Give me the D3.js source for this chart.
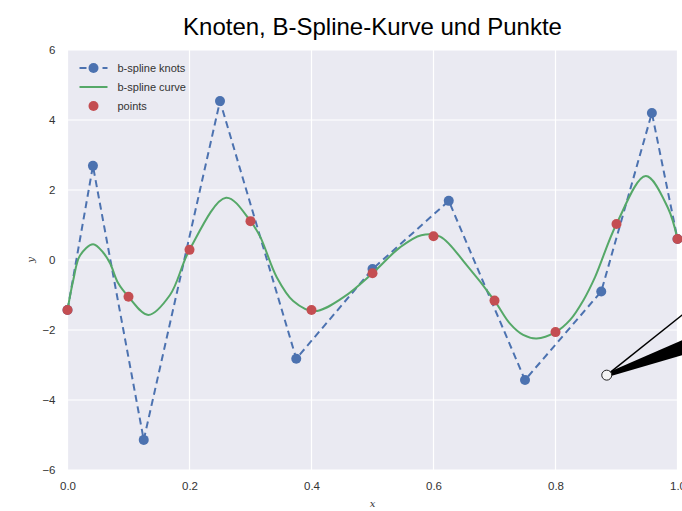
<!DOCTYPE html>
<html>
<head>
<meta charset="utf-8">
<script src="https://cdn.jsdelivr.net/npm/d3@7"></script>
<style>
  html, body { margin: 0; padding: 0; background: #fff; }
  svg { display: block; }
</style>
</head>
<body>
<div id="chart"></div>
<script>
// knots (control points) of the b-spline
const knotX = [0, 0.0417, 0.125, 0.25, 0.375, 0.5, 0.625, 0.75, 0.875, 0.958, 1.0];
const knotY = [-1.43, 2.69, -5.14, 4.54, -2.82, -0.26, 1.69, -3.43, -0.9, 4.2, 0.6];

// sampled points
const pointX = [0, 0.1, 0.2, 0.3, 0.4, 0.5, 0.6, 0.7, 0.8, 0.9, 1.0];
const pointY = [-1.43, -1.05, 0.29, 1.11, -1.43, -0.38, 0.68, -1.16, -2.06, 1.03, 0.6];

// curve
const curveX = [0, 0.0095, 0.0205, 0.042, 0.059, 0.07, 0.083, 0.1, 0.1325, 0.168, 0.2, 0.26, 0.3, 0.316, 0.343, 0.37, 0.405, 0.452, 0.5, 0.545, 0.58, 0.611, 0.654, 0.7, 0.725, 0.747, 0.769, 0.8, 0.824, 0.846, 0.865, 0.9, 0.948, 0.984, 1.0];
const curveY = [-1.43, -0.57, 0.13, 0.45, 0.2, -0.1, -0.66, -1.05, -1.57, -1.0, 0.29, 1.78, 1.11, 0.66, -0.49, -1.17, -1.46, -1.07, -0.38, 0.36, 0.71, 0.67, -0.14, -1.16, -1.81, -2.14, -2.24, -2.06, -1.71, -1.14, -0.48, 1.03, 2.4, 1.5, 0.6];

const xTicks = [0, 0.2, 0.4, 0.6, 0.8, 1.0];
const yTicks = [-6, -4, -2, 0, 2, 4, 6];

// stray annotation marker (circle + line + wedge), data coords
const annoCircle = [0.884, -3.29];
const annoLineEnd = [1.125, 0.06];
const annoWedge = [[0.884, -3.23], [1.125, -1.4], [1.125, -2.12], [0.884, -3.35]];

const width = 682, height = 511;
const margin = { top: 50, right: 4.5, bottom: 41, left: 67.5 };

const svg = d3.select('#chart')
  .append('svg')
  .attr('width', width)
  .attr('height', height);

const x_sc = d3.scaleLinear().domain([0, 1]).range([margin.left, width - margin.right]);
const y_sc = d3.scaleLinear().domain([-6, 6]).range([height - margin.bottom, margin.top]);

const font = "'Liberation Sans', Arial, sans-serif";

// title
svg.append('text')
  .attr('x', (x_sc(0) + x_sc(1)) / 2)
  .attr('y', 35)
  .attr('text-anchor', 'middle')
  .style('font-family', font)
  .style('font-size', '24px')
  .style('fill', '#000')
  .text('Knoten, B-Spline-Kurve und Punkte');

// plot background
svg.append('rect')
  .attr('x', x_sc(0))
  .attr('y', y_sc(6))
  .attr('width', x_sc(1) - x_sc(0))
  .attr('height', y_sc(-6) - y_sc(6))
  .attr('fill', '#EAEAF2');

// grid
const grid = svg.append('g');
grid.selectAll('.gx')
  .data(xTicks)
  .enter()
  .append('line')
  .attr('x1', d => x_sc(d)).attr('x2', d => x_sc(d))
  .attr('y1', y_sc(6)).attr('y2', y_sc(-6))
  .attr('stroke', '#fff').attr('stroke-width', 1.2);
grid.selectAll('.gy')
  .data(yTicks)
  .enter()
  .append('line')
  .attr('x1', x_sc(0)).attr('x2', x_sc(1))
  .attr('y1', d => y_sc(d)).attr('y2', d => y_sc(d))
  .attr('stroke', '#fff').attr('stroke-width', 1.2);

// axes (labels only, no domain/ticks)
const xAxis = svg.append('g')
  .attr('transform', `translate(0,${y_sc(-6)})`)
  .call(d3.axisBottom(x_sc).tickValues(xTicks).tickFormat(d3.format('.1f')).tickSize(0).tickPadding(12));
const yAxis = svg.append('g')
  .attr('transform', `translate(${x_sc(0)},0)`)
  .call(d3.axisLeft(y_sc).tickValues(yTicks).tickFormat(d => d < 0 ? '\u2212' + Math.abs(d) : d).tickSize(0).tickPadding(12));
[xAxis, yAxis].forEach(a => {
  a.select('.domain').remove();
  a.selectAll('text')
    .style('font-family', font)
    .style('font-size', '11.5px')
    .style('fill', '#333');
});

// axis labels
svg.append('text')
  .attr('x', (x_sc(0) + x_sc(1)) / 2)
  .attr('y', 507)
  .attr('text-anchor', 'middle')
  .style('font-family', "'DejaVu Serif', serif")
  .style('font-style', 'italic')
  .style('font-size', '10px')
  .style('fill', '#333')
  .text('x');
svg.append('text')
  .attr('transform', `translate(34,${y_sc(0)}) rotate(-90)`)
  .attr('text-anchor', 'middle')
  .style('font-family', "'DejaVu Serif', serif")
  .style('font-style', 'italic')
  .style('font-size', '10px')
  .style('fill', '#333')
  .text('y');

const colors = { knots: '#4C72B0', curve: '#55A868', points: '#C44E52' };

// knots: dashed line + markers
const knots = knotX.map((v, i) => [v, knotY[i]]);
svg.append('path')
  .datum(knots)
  .attr('fill', 'none')
  .attr('stroke', colors.knots)
  .attr('stroke-width', 2)
  .attr('stroke-dasharray', '7,4.5')
  .attr('d', d3.line().x(d => x_sc(d[0])).y(d => y_sc(d[1])));
svg.selectAll('.knot')
  .data(knots)
  .enter()
  .append('circle')
  .attr('cx', d => x_sc(d[0]))
  .attr('cy', d => y_sc(d[1]))
  .attr('r', 5)
  .attr('fill', colors.knots);

// curve
const curve = curveX.map((v, i) => [v, curveY[i]]);
svg.append('path')
  .datum(curve)
  .attr('fill', 'none')
  .attr('stroke', colors.curve)
  .attr('stroke-width', 2)
  .attr('d', d3.line().curve(d3.curveCatmullRom.alpha(0.5)).x(d => x_sc(d[0])).y(d => y_sc(d[1])));

// points
svg.selectAll('.pt')
  .data(pointX.map((v, i) => [v, pointY[i]]))
  .enter()
  .append('circle')
  .attr('cx', d => x_sc(d[0]))
  .attr('cy', d => y_sc(d[1]))
  .attr('r', 5)
  .attr('fill', colors.points);

// annotation leftovers
svg.append('path')
  .datum(annoWedge)
  .attr('fill', '#000')
  .attr('d', d3.line().x(d => x_sc(d[0])).y(d => y_sc(d[1])));
svg.append('line')
  .attr('x1', x_sc(annoCircle[0])).attr('y1', y_sc(annoCircle[1]))
  .attr('x2', x_sc(annoLineEnd[0])).attr('y2', y_sc(annoLineEnd[1]))
  .attr('stroke', '#000').attr('stroke-width', 1.5);
svg.append('circle')
  .attr('cx', x_sc(annoCircle[0]))
  .attr('cy', y_sc(annoCircle[1]))
  .attr('r', 5)
  .attr('fill', '#f4f4f4')
  .attr('stroke', '#222')
  .attr('stroke-width', 1);

// legend
const legend = svg.append('g').attr('transform', `translate(${x_sc(0) + 12},68)`);
const lg = [
  { label: 'b-spline knots', type: 'knots' },
  { label: 'b-spline curve', type: 'curve' },
  { label: 'points', type: 'points' }
];
lg.forEach((d, i) => {
  const row = legend.append('g').attr('transform', `translate(0,${i * 19})`);
  if (d.type === 'knots') {
    row.append('line').attr('x1', 0).attr('x2', 28).attr('y1', 0).attr('y2', 0)
      .attr('stroke', colors.knots).attr('stroke-width', 2).attr('stroke-dasharray', '7,4.5');
    row.append('circle').attr('cx', 14).attr('cy', 0).attr('r', 5).attr('fill', colors.knots);
  } else if (d.type === 'curve') {
    row.append('line').attr('x1', 0).attr('x2', 28).attr('y1', 0).attr('y2', 0)
      .attr('stroke', colors.curve).attr('stroke-width', 2);
  } else {
    row.append('circle').attr('cx', 14).attr('cy', 0).attr('r', 5).attr('fill', colors.points);
  }
  row.append('text')
    .attr('x', 38)
    .attr('y', 4)
    .style('font-family', font)
    .style('font-size', '11px')
    .style('fill', '#333')
    .text(d.label);
});
</script>
</body>
</html>
